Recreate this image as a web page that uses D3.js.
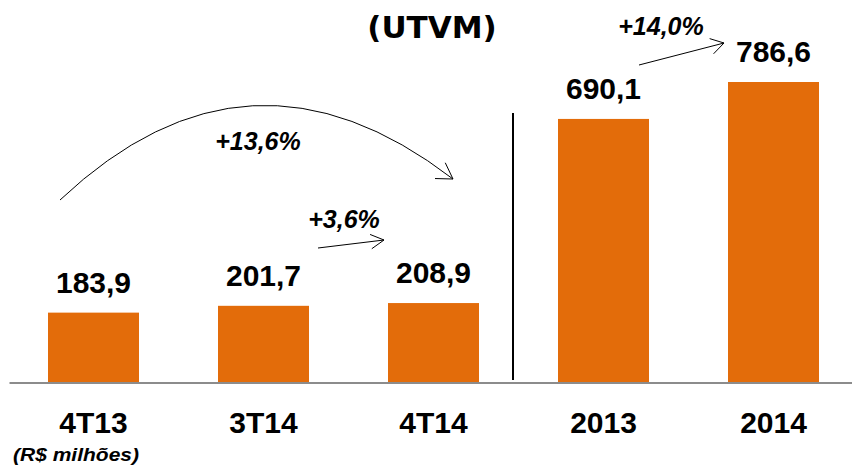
<!DOCTYPE html>
<html>
<head>
<meta charset="utf-8">
<script src="https://cdn.jsdelivr.net/npm/d3@7"></script>
<style>
  body { margin: 0; background: #fff; }
  svg { display: block; font-family: 'Liberation Sans', Arial, sans-serif; }
</style>
</head>
<body>
<svg width="852" height="469"></svg>
<script>
// Chart data
const categories = ['4T13', '3T14', '4T14', '2013', '2014'];
const values = [183.9, 201.7, 208.9, 690.1, 786.6];
const valueLabels = ['183,9', '201,7', '208,9', '690,1', '786,6'];
const growthLabels = ['+13,6%', '+3,6%', '+14,0%'];

const svg = d3.select('svg');
const orange = '#e36c0a';
const baseline = 383;

// Scales
const x = d3.scaleBand()
  .domain(categories)
  .range([8.5, 858.5])
  .paddingInner(79 / 170)
  .paddingOuter(79 / 340);

const y = d3.scaleLinear()
  .domain([0, 786.6])
  .range([baseline, 82]);

// Title
svg.append('text')
  .attr('x', 432)
  .attr('y', 38)
  .attr('text-anchor', 'middle')
  .style('font-family', "'DejaVu Sans', sans-serif")
  .style('font-weight', 'bold')
  .style('font-size', '31px')
  .text('(UTVM)');

// Bars
svg.selectAll('.bar')
  .data(values)
  .enter()
  .append('rect')
  .attr('class', 'bar')
  .attr('x', (d, i) => x(categories[i]))
  .attr('y', (d) => y(d))
  .attr('width', x.bandwidth())
  .attr('height', (d) => baseline - y(d))
  .attr('fill', orange);

// Baseline axis
const xAxis = d3.axisBottom(x).tickSize(0).tickPadding(0).tickFormat('');
svg.append('g')
  .attr('transform', `translate(0, ${baseline})`)
  .call(xAxis)
  .call((g) => g.select('.domain')
    .attr('d', 'M9.5,0H852')
    .attr('stroke', '#8c8c8c')
    .attr('stroke-width', 2));

// Category labels
svg.selectAll('.cat')
  .data(categories)
  .enter()
  .append('text')
  .attr('class', 'cat')
  .attr('x', (d) => x(d) + x.bandwidth() / 2)
  .attr('y', 433)
  .attr('text-anchor', 'middle')
  .style('font-weight', 'bold')
  .style('font-size', '30px')
  .attr('fill', '#000')
  .text((d) => d);

// Value labels
svg.selectAll('.val')
  .data(values)
  .enter()
  .append('text')
  .attr('class', 'val')
  .attr('x', (d, i) => x(categories[i]) + x.bandwidth() / 2)
  .attr('y', (d) => y(d) - 20)
  .attr('text-anchor', 'middle')
  .style('font-weight', 'bold')
  .style('font-size', '30px')
  .text((d, i) => valueLabels[i]);

// Units note
svg.append('text')
  .attr('x', 13)
  .attr('y', 461)
  .style('font-weight', 'bold')
  .style('font-style', 'italic')
  .style('font-size', '19px')
  .attr('textLength', 126)
  .attr('lengthAdjust', 'spacingAndGlyphs')
  .text('(R$ milhões)');

// Separator between quarters and years
const sepX = x('4T14') + x.bandwidth() + 34;
svg.append('line')
  .attr('x1', sepX).attr('x2', sepX)
  .attr('y1', 113).attr('y2', 380)
  .attr('stroke', '#000')
  .attr('stroke-width', 2);

// Open arrowhead helper
function arrowHead(tip, angle, len, spread) {
  [angle + Math.PI - spread, angle + Math.PI + spread].forEach((a) => {
    svg.append('line')
      .attr('x1', tip[0]).attr('y1', tip[1])
      .attr('x2', tip[0] + len * Math.cos(a))
      .attr('y2', tip[1] + len * Math.sin(a))
      .attr('stroke', '#000')
      .attr('stroke-width', 1);
  });
}

// Curved arrow 4T13 -> 4T14
const c0 = [x('4T13') + 12, 200];
const c1 = [249, 22];
const c2 = [x('4T14') + 65, 179];
svg.append('path')
  .attr('d', `M${c0}Q${c1} ${c2}`)
  .attr('fill', 'none')
  .attr('stroke', '#000')
  .attr('stroke-width', 1);
arrowHead(c2, Math.atan2(c2[1] - c1[1], c2[0] - c1[0]) - 0.08, 18, 0.55);

// Straight arrow 3T14 -> 4T14
const s0 = [x('3T14') + x.bandwidth() + 9, 248];
const s1 = [x('4T14') - 4, 240];
svg.append('line')
  .attr('x1', s0[0]).attr('y1', s0[1])
  .attr('x2', s1[0]).attr('y2', s1[1])
  .attr('stroke', '#000');
arrowHead(s1, Math.atan2(s1[1] - s0[1], s1[0] - s0[0]), 15, 0.5);

// Straight arrow 2013 -> 2014
const t0 = [x('2013') + 81, 65];
const t1 = [x('2014') - 4, 43];
svg.append('line')
  .attr('x1', t0[0]).attr('y1', t0[1])
  .attr('x2', t1[0]).attr('y2', t1[1])
  .attr('stroke', '#000');
arrowHead(t1, Math.atan2(t1[1] - t0[1], t1[0] - t0[0]), 15, 0.55);

// Growth labels
const growthPos = [[258, 150], [344, 228], [661, 35]];
svg.selectAll('.growth')
  .data(growthLabels)
  .enter()
  .append('text')
  .attr('class', 'growth')
  .attr('x', (d, i) => growthPos[i][0])
  .attr('y', (d, i) => growthPos[i][1])
  .attr('text-anchor', 'middle')
  .style('font-weight', 'bold')
  .style('font-style', 'italic')
  .style('font-size', '25px')
  .text((d) => d);
</script>
</body>
</html>
